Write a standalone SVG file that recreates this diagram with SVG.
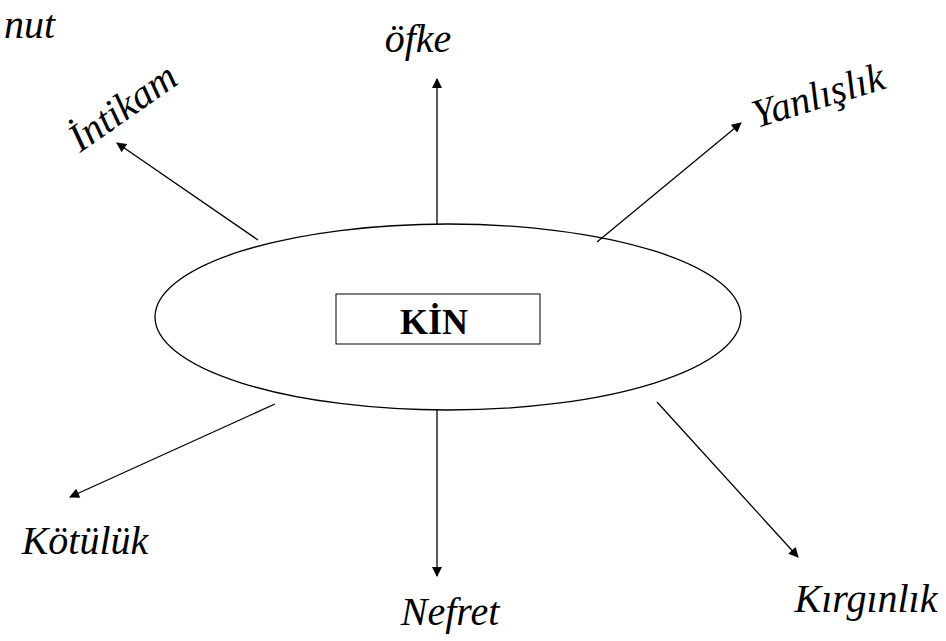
<svg xmlns="http://www.w3.org/2000/svg" width="946" height="641" viewBox="0 0 946 641">
<defs>
<marker id="ah" viewBox="0 0 10 10" refX="9" refY="5" markerWidth="11" markerHeight="10" markerUnits="userSpaceOnUse" orient="auto">
<path d="M0,0 L10,5 L0,10 Z" fill="#000"/>
</marker>
<style>
.hand{font-family:"Liberation Serif","DejaVu Serif",serif;font-style:italic;font-size:40px;fill:#000;text-anchor:middle}
.conn line{stroke:#000;stroke-width:1.3;fill:none;marker-end:url(#ah)}
</style>
</defs>
<rect width="946" height="641" fill="#fff"/>
<g id="center">
<ellipse cx="448" cy="317" rx="293" ry="93" fill="none" stroke="#000" stroke-width="1.3"/>
<rect x="336" y="294" width="204" height="50" fill="none" stroke="#000" stroke-width="1"/>
<text x="434" y="334" font-family="Liberation Serif, serif" font-weight="bold" font-size="36" text-anchor="middle">KİN</text>
</g>
<g class="conn" id="connectors">
<line x1="437" y1="224" x2="437" y2="79"/>
<line x1="258" y1="240" x2="117" y2="143"/>
<line x1="597" y1="242" x2="741" y2="123"/>
<line x1="275" y1="404" x2="70" y2="497"/>
<line x1="437" y1="410" x2="437" y2="576"/>
<line x1="657" y1="402" x2="798" y2="557"/>
</g>
<g id="n-nut"><text class="hand" x="4" y="38" style="text-anchor:start;font-size:40px">nut</text></g>
<g id="n-ofke"><text class="hand" x="418" y="52">öfke</text></g>
<g id="n-intikam"><text class="hand" transform="translate(130,118) rotate(-35)" x="0" y="0">İntikam</text></g>
<g id="n-yanlislik"><text class="hand" transform="translate(822,108) rotate(-17)" x="0" y="0">Yanlışlık</text></g>
<g id="n-kotuluk"><text class="hand" x="85" y="554">Kötülük</text></g>
<g id="n-nefret"><text class="hand" x="450" y="625">Nefret</text></g>
<g id="n-kirginlik"><text class="hand" x="866" y="612">Kırgınlık</text></g>
</svg>
